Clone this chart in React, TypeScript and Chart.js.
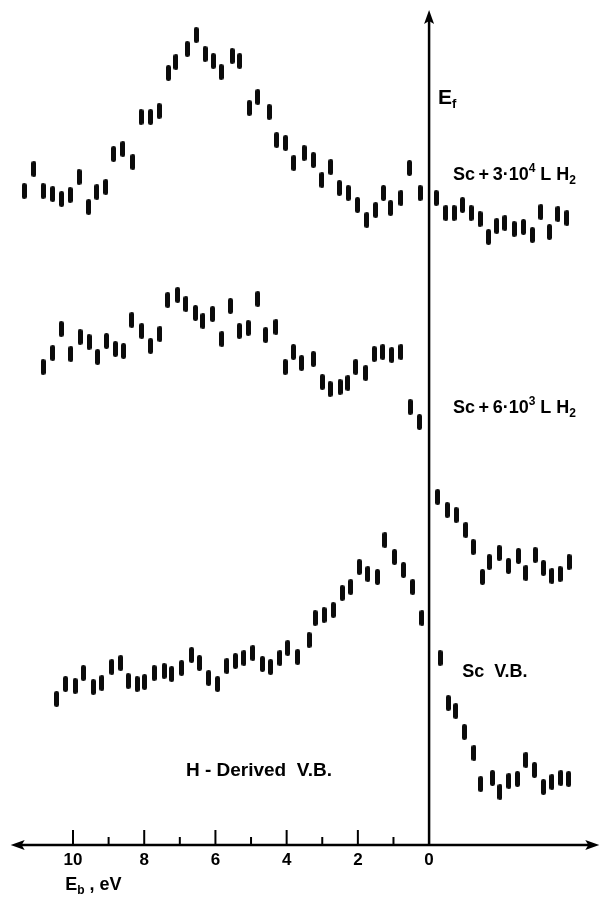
import { useEffect, useRef } from 'react';
import { Chart, registerables } from 'chart.js';

Chart.register(...registerables);

// Binding energy (eV) and intensity (arb. units) — Sc + 3·10^4 L H2
const E_TOP = [
  11.37, 11.1, 10.84, 10.57, 10.32, 10.08, 9.83, 9.56, 9.33, 9.08, 8.86, 8.6, 8.32, 8.09, 7.82, 7.58,
  7.32, 7.11, 6.79, 6.54, 6.29, 6.06, 5.84, 5.53, 5.32, 5.05, 4.81, 4.49, 4.28, 4.03, 3.8, 3.51,
  3.25, 3.01, 2.76, 2.52, 2.27, 2.01, 1.75, 1.5, 1.28, 1.08, 0.79, 0.55, 0.25, -0.2, -0.47, -0.7,
  -0.94, -1.18, -1.43, -1.67, -1.9, -2.13, -2.39, -2.65, -2.9, -3.14, -3.38, -3.62, -3.87,
];
const I_TOP = [
  654, 676, 654, 651, 646, 650, 668, 638, 653, 658, 691, 696, 683, 728, 728, 734,
  772, 783, 796, 810, 791, 784, 773, 789, 784, 737, 748, 733, 705, 702, 682, 692,
  685, 665, 678, 657, 652, 640, 625, 635, 652, 637, 647, 677, 652, 647, 632, 632,
  640, 632, 626, 608, 619, 622, 616, 618, 610, 633, 613, 631, 627,
];

// Sc + 6·10^3 L H2
const E_MID = [
  10.84, 10.57, 10.33, 10.06, 9.8, 9.55, 9.31, 9.06, 8.81, 8.58, 8.35, 8.07, 7.82, 7.56, 7.34, 7.06,
  6.83, 6.56, 6.35, 6.08, 5.82, 5.58, 5.33, 5.08, 4.81, 4.59, 4.3, 4.04, 3.81, 3.58, 3.25, 3.0,
  2.78, 2.5, 2.28, 2.06, 1.78, 1.54, 1.3, 1.05, 0.79, 0.53, 0.27, -0.24, -0.51, -0.76, -1.03, -1.24,
  -1.5, -1.69, -1.97, -2.23, -2.51, -2.72, -2.98, -3.21, -3.45, -3.68, -3.93,
];
const I_MID = [
  478, 492, 516, 491, 508, 503, 488, 504, 496, 494, 525, 514, 499, 511, 545, 550,
  541, 532, 524, 531, 506, 539, 514, 517, 546, 510, 518, 478, 493, 482, 486, 463,
  456, 458, 462, 478, 472, 491, 493, 490, 493, 438, 423, 348, 335, 330, 315, 298,
  268, 283, 292, 279, 289, 272, 290, 277, 269, 271, 283,
];

// Sc V.B. (clean Sc) with H-derived V.B. region
const E_BOT = [
  10.46, 10.21, 9.94, 9.71, 9.43, 9.19, 8.91, 8.66, 8.45, 8.2, 7.99, 7.72, 7.44, 7.23, 6.95, 6.67,
  6.45, 6.19, 5.94, 5.68, 5.44, 5.2, 4.95, 4.68, 4.45, 4.19, 3.97, 3.69, 3.37, 3.2, 2.95, 2.69,
  2.44, 2.2, 1.96, 1.72, 1.45, 1.24, 0.97, 0.72, 0.46, 0.2, -0.31, -0.54, -0.75, -0.99, -1.26, -1.45,
  -1.78, -1.99, -2.24, -2.48, -2.72, -2.96, -3.21, -3.45, -3.7, -3.92,
];
const I_BOT = [
  146, 161, 159, 172, 158, 162, 178, 182, 164, 161, 163, 172, 174, 171, 177, 190,
  182, 167, 161, 179, 184, 187, 192, 181, 178, 187, 197, 188, 205, 227, 230, 235,
  252, 258, 278, 271, 268, 305, 288, 275, 258, 227, 187, 142, 134, 113, 92, 61,
  67, 53, 64, 66, 85, 75, 58, 63, 67, 66,
];

// x-axis ticks (binding energy, eV)
const TICK_VALUES = [10, 9, 8, 7, 6, 5, 4, 3, 2, 1, 0];
const TICK_LABELS = ['10', '', '8', '', '6', '', '4', '', '2', '', '0'];

type Part = [string, 'n' | 'sup' | 'sub'];

const FONT = '"Liberation Sans", Arial, sans-serif';

function drawRich(ctx: CanvasRenderingContext2D, x: number, y: number, parts: Part[], size: number) {
  let cx = x;
  ctx.textBaseline = 'middle';
  ctx.textAlign = 'left';
  for (const [t, m] of parts) {
    const s = m === 'n' ? size : Math.round(size * 0.64);
    ctx.font = `bold ${s}px ${FONT}`;
    const dy = m === 'sup' ? -size * 0.36 : m === 'sub' ? size * 0.3 : 0;
    ctx.fillText(t, cx, y + dy);
    cx += ctx.measureText(t).width;
  }
}

export default function App() {
  const ref = useRef<HTMLCanvasElement>(null);

  useEffect(() => {
    const canvas = ref.current;
    if (!canvas) return;

    const bar = document.createElement('canvas');
    bar.width = 5;
    bar.height = 16;
    const bctx = bar.getContext('2d')!;
    bctx.fillStyle = '#0b0b0b';
    bctx.beginPath();
    (bctx as any).roundRect(0, 0, 5, 16, 2.3);
    bctx.fill();

    const annotations: { x: number; y: number; parts: Part[]; size: number }[] = [
      { x: -0.25, y: 747, parts: [['E', 'n'], ['f', 'sub']], size: 21 },
      { x: -0.67, y: 670, parts: [['Sc\u2009+\u20093·10', 'n'], ['4', 'sup'], [' L H', 'n'], ['2', 'sub']], size: 18 },
      { x: -0.67, y: 437, parts: [['Sc\u2009+\u20096·10', 'n'], ['3', 'sup'], [' L H', 'n'], ['2', 'sub']], size: 18 },
      { x: -0.93, y: 173, parts: [['Sc  V.B.', 'n']], size: 18 },
      { x: 6.83, y: 74, parts: [['H - Derived  V.B.', 'n']], size: 19 },
      { x: 10.22, y: -40, parts: [['E', 'n'], ['b', 'sub'], [' , eV', 'n']], size: 18 },
    ];

    const axesPlugin = {
      id: 'arrowAxes',
      afterDatasetsDraw(chart: any) {
        const ctx: CanvasRenderingContext2D = chart.ctx;
        const xs = chart.scales.x;
        const ys = chart.scales.y;
        const y0 = ys.getPixelForValue(0);
        const x0 = xs.getPixelForValue(0);
        const xl = xs.getPixelForValue(11.75);
        const xr = xs.getPixelForValue(-4.78);
        const yt = ys.getPixelForValue(835);
        ctx.save();
        ctx.strokeStyle = '#000';
        ctx.fillStyle = '#000';
        ctx.lineWidth = 2.5;
        ctx.beginPath();
        ctx.moveTo(xl + 6, y0);
        ctx.lineTo(xr - 6, y0);
        ctx.moveTo(x0, y0);
        ctx.lineTo(x0, yt + 6);
        ctx.stroke();
        // arrowheads
        ctx.beginPath();
        ctx.moveTo(xl, y0);
        ctx.lineTo(xl + 14, y0 - 5);
        ctx.lineTo(xl + 11, y0);
        ctx.lineTo(xl + 14, y0 + 5);
        ctx.closePath();
        ctx.moveTo(xr, y0);
        ctx.lineTo(xr - 14, y0 - 5);
        ctx.lineTo(xr - 11, y0);
        ctx.lineTo(xr - 14, y0 + 5);
        ctx.closePath();
        ctx.moveTo(x0, yt);
        ctx.lineTo(x0 - 5, yt + 14);
        ctx.lineTo(x0, yt + 11);
        ctx.lineTo(x0 + 5, yt + 14);
        ctx.closePath();
        ctx.fill();
        // ticks
        ctx.lineWidth = 2;
        TICK_VALUES.forEach((v, i) => {
          const px = xs.getPixelForValue(v);
          if (v !== 0) {
            const h = TICK_LABELS[i] ? 15 : 8;
            ctx.beginPath();
            ctx.moveTo(px, y0);
            ctx.lineTo(px, y0 - h);
            ctx.stroke();
          }
          if (TICK_LABELS[i]) {
            ctx.font = `bold 17px ${FONT}`;
            ctx.textAlign = 'center';
            ctx.textBaseline = 'middle';
            ctx.fillText(TICK_LABELS[i], px, ys.getPixelForValue(-15));
          }
        });
        for (const a of annotations) {
          drawRich(ctx, xs.getPixelForValue(a.x), ys.getPixelForValue(a.y), a.parts, a.size);
        }
        ctx.restore();
      },
    };

    const mk = (E: number[], I: number[]) => ({
      data: E.map((e, i) => ({ x: e, y: I[i] })),
      pointStyle: bar as any,
      pointRadius: 8,
      showLine: false,
      clip: false as any,
    });

    const chart = new Chart(canvas, {
      type: 'scatter',
      data: { datasets: [mk(E_TOP, I_TOP), mk(E_MID, I_MID), mk(E_BOT, I_BOT)] },
      options: {
        responsive: false,
        animation: false,
        layout: { autoPadding: false, padding: { left: 0, right: 0, top: 0, bottom: 52 } },
        plugins: { legend: { display: false }, tooltip: { enabled: false } },
        scales: {
          x: { type: 'linear', reverse: true, min: -4.8, max: 12.05, display: false },
          y: { type: 'linear', min: 0, max: 845, display: false },
        },
      },
      plugins: [axesPlugin],
    });

    return () => chart.destroy();
  }, []);

  return (
    <div style={{ position: 'absolute', left: 0, top: 0, width: 600, height: 897, background: '#fff' }}>
      <canvas ref={ref} width={600} height={897} style={{ display: 'block', width: 600, height: 897 }} />
    </div>
  );
}
